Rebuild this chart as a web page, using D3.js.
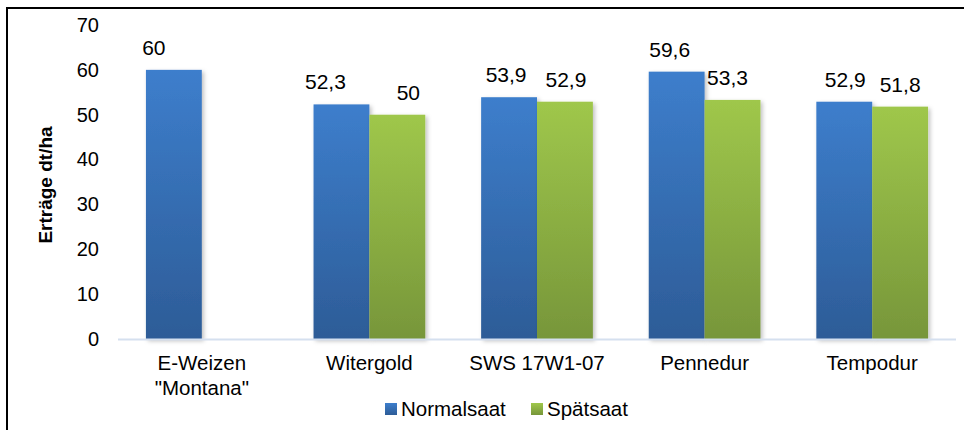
<!DOCTYPE html>
<html>
<head>
<meta charset="utf-8">
<script src="https://cdn.jsdelivr.net/npm/d3@7"></script>
<style>
  body { margin: 0; background: #fff; }
  text { font-family: "Liberation Sans", Arial, sans-serif; fill: #000; }
</style>
</head>
<body>
<div id="chart"></div>
<script>
// chart data
var categories = [["E-Weizen", "\"Montana\""], ["Witergold"], ["SWS 17W1-07"], ["Pennedur"], ["Tempodur"]];
var seriesNames = ["Normalsaat", "Spätsaat"];
var normalsaat = [60, 52.3, 53.9, 59.6, 52.9];
var spaetsaat = [null, 50, 52.9, 53.3, 51.8];
var yTicks = [0, 10, 20, 30, 40, 50, 60, 70];

// small nudges for labels that sit off-centre in the original
var labelShift = [[-20, -16, -3, -7, 1], [0, 11, 1, -5, 0]];

var svgWidth = 968;
var svgHeight = 430;

var svg = d3.select("#chart")
    .append("svg")
    .attr("width", svgWidth)
    .attr("height", svgHeight);

var defs = svg.append("defs");

function gradient(id, top, bottom) {
    var g = defs.append("linearGradient")
        .attr("id", id)
        .attr("x1", 0).attr("y1", 0)
        .attr("x2", 0).attr("y2", 1);
    g.append("stop").attr("offset", "0%").attr("stop-color", top);
    g.append("stop").attr("offset", "100%").attr("stop-color", bottom);
}
gradient("gradBlue", "#3d7ecc", "#2d5c97");
gradient("gradGreen", "#9fc74b", "#77963a");

var shadow = defs.append("filter")
    .attr("id", "shadow")
    .attr("x", "-20%").attr("y", "-10%")
    .attr("width", "150%").attr("height", "130%");
shadow.append("feDropShadow")
    .attr("dx", 2).attr("dy", 2)
    .attr("stdDeviation", 2)
    .attr("flood-color", "#000")
    .attr("flood-opacity", 0.25);

// outer frame (left and top edges only visible)
svg.append("path")
    .attr("d", "M7,430 L7,8 L964,8")
    .attr("fill", "none")
    .attr("stroke", "#000")
    .attr("stroke-width", 2);

// scales
var x0 = d3.scaleBand()
    .domain(d3.range(categories.length))
    .range([118, 956]);

var x1 = d3.scaleBand()
    .domain(seriesNames)
    .range([0, x0.bandwidth()])
    .paddingInner(0)
    .paddingOuter(0.5);

var y = d3.scaleLinear()
    .domain([0, 70])
    .range([339, 25]);

// y tick labels
var leftAxis = d3.axisLeft(y).tickValues(yTicks).tickSize(0).tickPadding(0);
var yAxisG = svg.append("g")
    .attr("transform", "translate(99,0)")
    .call(leftAxis);
yAxisG.select(".domain").remove();
yAxisG.selectAll("text")
    .attr("font-size", "20px")
    .attr("font-family", "'Liberation Sans', Arial, sans-serif")
    .attr("fill", "#000");

// y axis title
svg.append("text")
    .attr("transform", "translate(52,185) rotate(-90)")
    .attr("text-anchor", "middle")
    .attr("font-size", "19px")
    .attr("font-weight", "bold")
    .text("Erträge dt/ha");

// bars
var seriesData = [normalsaat, spaetsaat];
var fills = ["url(#gradBlue)", "url(#gradGreen)"];

seriesData.forEach(function(values, s) {
    var items = values.map(function(v, i) { return { i: i, v: v }; })
        .filter(function(d) { return d.v !== null; });

    svg.append("g")
        .selectAll("rect")
        .data(items)
        .enter()
        .append("rect")
        .attr("x", d => x0(d.i) + x1(seriesNames[s]))
        .attr("y", d => y(d.v))
        .attr("width", x1.bandwidth())
        .attr("height", d => y(0) - y(d.v))
        .attr("fill", fills[s])
        .attr("filter", "url(#shadow)");

    svg.append("g")
        .selectAll("text")
        .data(items)
        .enter()
        .append("text")
        .attr("x", d => x0(d.i) + x1(seriesNames[s]) + x1.bandwidth() / 2 + labelShift[s][d.i])
        .attr("y", d => y(d.v) - 15)
        .attr("text-anchor", "middle")
        .attr("font-size", "21px")
        .text(d => String(d.v).replace(".", ","));
});

// baseline
svg.append("line")
    .attr("x1", 118).attr("x2", 956)
    .attr("y1", y(0) + 0.5).attr("y2", y(0) + 0.5)
    .attr("stroke", "#d5e0ef")
    .attr("stroke-width", 2);

// category labels
var catLabels = svg.append("g")
    .selectAll("text")
    .data(categories)
    .enter()
    .append("text")
    .attr("x", (d, i) => x0(i) + x0.bandwidth() / 2)
    .attr("y", 370)
    .attr("text-anchor", "middle")
    .attr("font-size", "20.5px");

catLabels.selectAll("tspan")
    .data(d => d)
    .enter()
    .append("tspan")
    .attr("x", function() { return d3.select(this.parentNode).attr("x"); })
    .attr("dy", (d, j) => j === 0 ? 0 : 25)
    .text(d => d);

// legend
var legendX = [385, 531];
var legend = svg.append("g");
seriesNames.forEach(function(name, s) {
    legend.append("rect")
        .attr("x", legendX[s])
        .attr("y", 403)
        .attr("width", 12)
        .attr("height", 12)
        .attr("fill", fills[s]);
    legend.append("text")
        .attr("x", legendX[s] + 16)
        .attr("y", 416)
        .attr("font-size", "20.5px")
        .text(name);
});
</script>
</body>
</html>
